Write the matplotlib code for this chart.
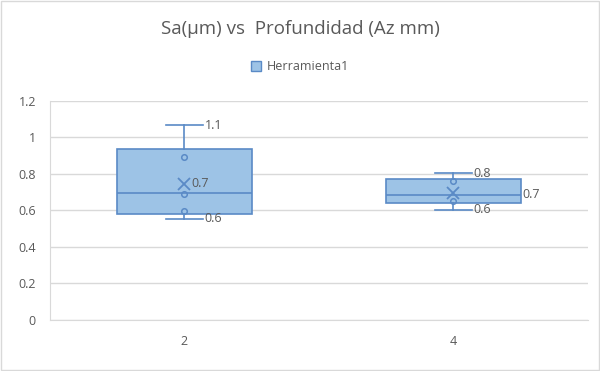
import matplotlib.pyplot as plt
from matplotlib.patches import Patch, Rectangle

# profundidad (Az mm) categories
categories = ["2", "4"]
whis_lo = [0.554, 0.602]
q1 = [0.580, 0.638]
medians = [0.696, 0.682]
q3 = [0.934, 0.770]
whis_hi = [1.065, 0.803]
means = [0.745, 0.696]
inner_points = [[0.893, 0.689, 0.596], [0.762, 0.649]]
series_name = "Herramienta1"
yticks = [0, 0.2, 0.4, 0.6, 0.8, 1, 1.2]
ytick_labels = ["0", "0.2", "0.4", "0.6", "0.8", "1", "1.2"]

FILL = "#9DC3E6"
EDGE = "#5A8AC6"
GRAY = "#595959"

plt.rcParams['font.family'] = ['Open Sans', 'DejaVu Sans']

fig = plt.figure(figsize=(6, 3.71), dpi=100)
ax = fig.add_axes([0.083, 0.1375, 0.897, 0.591])

stats = []
for i in range(len(categories)):
    stats.append(dict(med=medians[i], q1=q1[i], q3=q3[i],
                      whislo=whis_lo[i], whishi=whis_hi[i],
                      mean=means[i], fliers=[]))

pos = list(range(1, len(categories) + 1))
ax.bxp(stats, positions=pos, widths=0.5, capwidths=0.14,
       patch_artist=True, showmeans=True, showfliers=False,
       boxprops=dict(facecolor=FILL, edgecolor=EDGE, linewidth=1.2),
       medianprops=dict(color=EDGE, linewidth=1.2),
       whiskerprops=dict(color=EDGE, linewidth=1.2),
       capprops=dict(color=EDGE, linewidth=1.2),
       meanprops=dict(marker="x", markeredgecolor=EDGE, markersize=8,
                      markeredgewidth=1.3))

for p, pts in zip(pos, inner_points):
    ax.plot([p] * len(pts), pts, linestyle="none", marker="o",
            markersize=4, markerfacecolor="none", markeredgecolor=EDGE,
            markeredgewidth=1.1)

# data labels (rounded to one decimal like Excel)
for i, p in enumerate(pos):
    ax.text(p + 0.075, whis_hi[i], f"{whis_hi[i]:.1f}", color=GRAY,
            fontsize=9, va="center", ha="left")
    ax.text(p + 0.075, whis_lo[i], f"{whis_lo[i]:.1f}", color=GRAY,
            fontsize=9, va="center", ha="left")
ax.text(pos[0] + 0.025, means[0], f"{means[0]:.1f}", color=GRAY,
        fontsize=9, va="center", ha="left")
ax.text(pos[1] + 0.255, means[1] - 0.01, f"{means[1]:.1f}", color=GRAY,
        fontsize=9, va="center", ha="left")

ax.set_xlim(0.5, len(categories) + 0.5)
ax.set_ylim(0, 1.2)
ax.set_xticks(pos)
ax.set_xticklabels(categories)
ax.set_yticks(yticks)
ax.set_yticklabels(ytick_labels)
ax.tick_params(length=0, colors=GRAY, labelsize=9, pad=10)
ax.tick_params(axis="x", pad=11)
ax.grid(axis="y", color="#D9D9D9", linewidth=1)
ax.set_axisbelow(True)
for s in ["top", "right"]:
    ax.spines[s].set_visible(False)
for s in ["left", "bottom"]:
    ax.spines[s].set_color("#D9D9D9")

fig.text(0.5, 0.923, "Sa(µm) vs  Profundidad (Az mm)", ha="center",
         va="center", fontsize=13.5, color=GRAY)
fig.legend(handles=[Patch(facecolor=FILL, edgecolor=EDGE, label=series_name)],
           loc="center", bbox_to_anchor=(0.5, 0.82), frameon=False,
           fontsize=9, labelcolor=GRAY, handlelength=0.8, handleheight=0.8,
           handletextpad=0.4)

fig.patches.append(Rectangle((0.002, 0.002), 0.996, 0.996,
                             transform=fig.transFigure, fill=False,
                             edgecolor="#D9D9D9", linewidth=1))

fig.savefig("out.png", dpi=100)
